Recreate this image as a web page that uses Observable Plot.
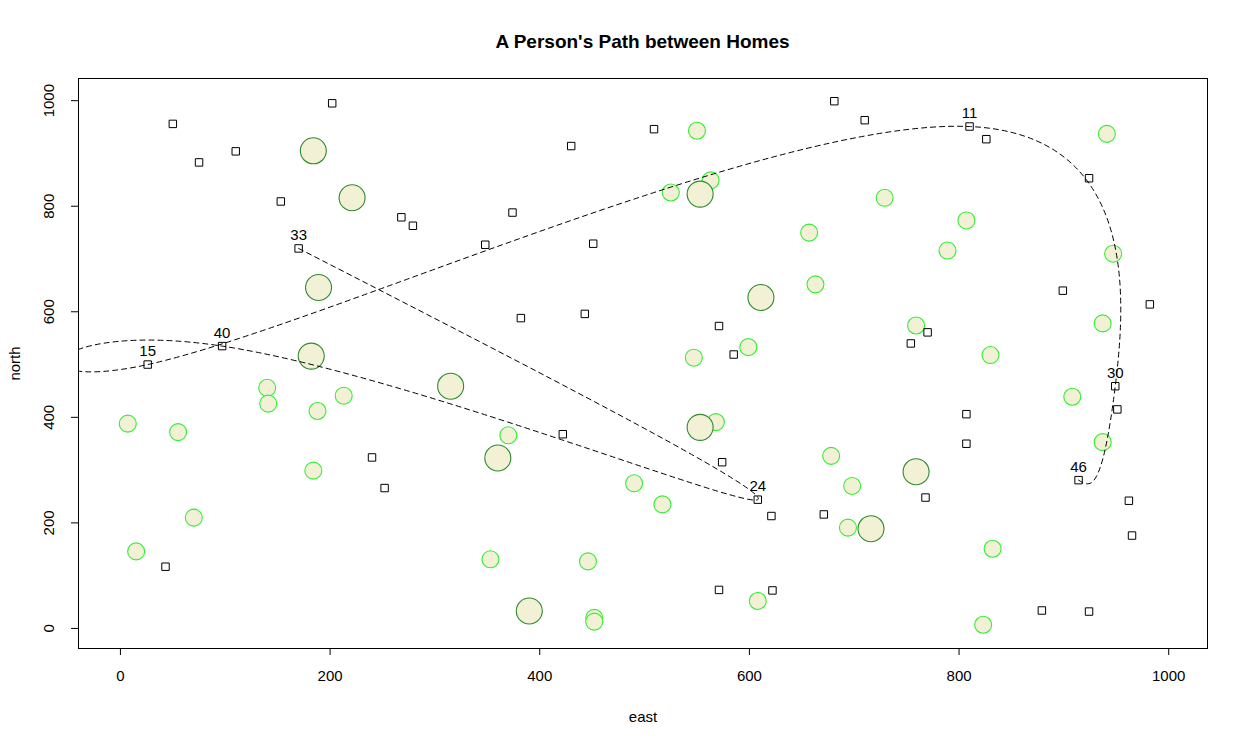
<!DOCTYPE html>
<html>
<head>
<meta charset="utf-8">
<script src="https://cdn.jsdelivr.net/npm/d3@7"></script>
<script src="https://cdn.jsdelivr.net/npm/@observablehq/plot@0.6"></script>
<style>
  html, body { margin: 0; padding: 0; background: #fff; }
  body { width: 1247px; height: 747px; font-family: "Liberation Sans", Arial, sans-serif; }
  #title { position: absolute; left: 78px; top: 31px; width: 1129px; text-align: center;
           font-weight: bold; font-size: 19px; line-height: 22px; color: #000; }
  #chart { position: absolute; left: 0; top: 60px; }
</style>
</head>
<body>
<div id="title">A Person's Path between Homes</div>
<div id="chart"></div>
<script>
// Homes (open squares)
const homeEast  = [202, 50, 110, 75, 153, 268, 279, 170, 97, 26, 509, 430, 374, 348, 451, 382, 443, 571, 585, 681, 710, 810, 826, 924, 899, 982, 770, 754, 240, 252, 43, 422, 574, 608, 621, 671, 571, 622, 807, 807, 768, 949, 951, 914, 962, 965, 879, 924];
const homeNorth = [995, 956, 904, 883, 809, 779, 763, 720, 535, 500, 946, 914, 788, 727, 729, 588, 596, 573, 519, 999, 963, 951, 927, 853, 640, 614, 561, 540, 324, 266, 117, 368, 315, 244, 213, 216, 73, 72, 406, 350, 248, 459, 415, 281, 242, 176, 34, 32];

// Small circles (bright green outline)
const smallEast  = [550, 563, 525, 657, 663, 599, 547, 941, 729, 807, 789, 947, 937, 759, 830, 140, 141, 213, 188, 7, 55, 184, 70, 15, 370, 490, 517, 568, 353, 446, 452, 452, 608, 678, 698, 694, 908, 937, 832, 823];
const smallNorth = [943, 849, 826, 750, 652, 533, 513, 937, 816, 773, 716, 710, 578, 574, 518, 456, 426, 441, 412, 388, 372, 299, 210, 146, 366, 275, 235, 391, 131, 127, 20, 13, 52, 327, 270, 191, 439, 353, 151, 7];

// Large circles (dark green outline)
const largeEast  = [184, 221, 189, 182, 315, 360, 553, 390, 553, 611, 759, 716];
const largeNorth = [905, 816, 646, 516, 459, 323, 381, 33, 823, 627, 297, 189];

// Labelled homes visited on the path, in path order, with estimated visit times
const pathLabel = ["33", "24", "40", "15", "11", "30", "46"];
const pathEast  = [170, 608, 97, 26, 810, 949, 914];
const pathNorth = [720, 244, 535, 500, 951, 459, 281];
const pathTime  = [0, 1, 2.13, 3.24, 4.64, 5.83, 7.3];

// Axis ticks
const xTicks = [0, 200, 400, 600, 800, 1000];
const yTicks = [0, 200, 400, 600, 800, 1000];

const homes  = homeEast.map((e, i) => ({east: e, north: homeNorth[i]}));
const small  = smallEast.map((e, i) => ({east: e, north: smallNorth[i]}));
const large  = largeEast.map((e, i) => ({east: e, north: largeNorth[i]}));
const path   = pathEast.map((e, i) => ({east: e, north: pathNorth[i], label: pathLabel[i]}));

// Natural cubic spline slopes at the knots t for values y
function naturalSlopes(t, y) {
  const n = y.length, h = [];
  for (let i = 0; i < n - 1; i++) h.push(t[i + 1] - t[i]);
  const M = new Array(n).fill(0), a = [], b = [], c = [], r = [];
  for (let i = 1; i < n - 1; i++) {
    a.push(h[i - 1]); b.push(2 * (h[i - 1] + h[i])); c.push(h[i]);
    r.push(6 * ((y[i + 1] - y[i]) / h[i] - (y[i] - y[i - 1]) / h[i - 1]));
  }
  const m = r.length;
  for (let i = 1; i < m; i++) { const w = a[i] / b[i - 1]; b[i] -= w * c[i - 1]; r[i] -= w * r[i - 1]; }
  const z = new Array(m);
  if (m) { z[m - 1] = r[m - 1] / b[m - 1]; for (let i = m - 2; i >= 0; i--) z[i] = (r[i] - c[i] * z[i + 1]) / b[i]; }
  for (let i = 0; i < m; i++) M[i + 1] = z[i];
  const s = new Array(n);
  for (let i = 0; i < n - 1; i++) s[i] = (y[i + 1] - y[i]) / h[i] - h[i] * (2 * M[i] + M[i + 1]) / 6;
  s[n - 1] = (y[n - 1] - y[n - 2]) / h[n - 2] + h[n - 2] * (M[n - 2] + 2 * M[n - 1]) / 6;
  return s;
}
// Custom curve: parametric natural spline through the points, parametrised by visit time
function TimedSpline(context) { this._context = context; }
TimedSpline.prototype = {
  areaStart() { this._line = 0; },
  areaEnd() { this._line = NaN; },
  lineStart() { this._x = []; this._y = []; },
  lineEnd() {
    const x = this._x, y = this._y, n = x.length, ctx = this._context;
    if (n) {
      this._line ? ctx.lineTo(x[0], y[0]) : ctx.moveTo(x[0], y[0]);
      if (n === 2) ctx.lineTo(x[1], y[1]);
      else if (n > 2) {
        const t = pathTime.slice(0, n);
        const bx = naturalSlopes(t, x), by = naturalSlopes(t, y);
        for (let i = 0; i < n - 1; i++) {
          const h = t[i + 1] - t[i];
          ctx.bezierCurveTo(x[i] + bx[i] * h / 3, y[i] + by[i] * h / 3,
                            x[i + 1] - bx[i + 1] * h / 3, y[i + 1] - by[i + 1] * h / 3,
                            x[i + 1], y[i + 1]);
        }
      }
    }
    if (this._line || (this._line !== 0 && n === 1)) ctx.closePath();
    this._line = 1 - this._line;
    this._x = this._y = null;
  },
  point(x, y) { this._x.push(+x); this._y.push(+y); }
};
const curveTimed = (context) => new TimedSpline(context);

const fillC = "#f2f1d6";

const chart = Plot.plot({
  width: 1247,
  height: 687,
  marginTop: 18,
  marginBottom: 99,
  marginLeft: 78,
  marginRight: 40,
  style: {fontFamily: "'Liberation Sans', Arial, sans-serif", fontSize: "15px", color: "#000", background: "#fff"},
  x: {domain: [-40, 1037]},
  y: {domain: [-38, 1042]},
  marks: [
    Plot.axisX({ticks: xTicks, tickFormat: "d", tickSize: 7, tickPadding: 15, label: "east", labelAnchor: "center", labelArrow: "none", labelOffset: 73, fontSize: 15}),
    Plot.axisY({ticks: yTicks, tickFormat: "d", tickSize: 7, tickPadding: 18, tickRotate: -90, label: "north", labelAnchor: "center", labelArrow: "none", labelOffset: 69, fontSize: 15}),
    Plot.dot(small, {x: "east", y: "north", r: 8.5, fill: fillC, stroke: "#33ee33", strokeWidth: 1.1}),
    Plot.dot(large, {x: "east", y: "north", r: 13, fill: fillC, stroke: "#2e8b2e", strokeWidth: 1.1}),
    Plot.dot(homes, {x: "east", y: "north", symbol: "square", r: 4.2, fill: "none", stroke: "#000", strokeWidth: 1}),
    Plot.line(path, {x: "east", y: "north", curve: curveTimed, stroke: "#000", strokeWidth: 1, strokeDasharray: "5,4", clip: true}),
    Plot.text(path, {x: "east", y: "north", text: "label", dy: -13, fontSize: 15, fill: "#000"}),
    Plot.frame({stroke: "#000", strokeWidth: 1})
  ]
});
document.getElementById("chart").appendChild(chart);
</script>
</body>
</html>
